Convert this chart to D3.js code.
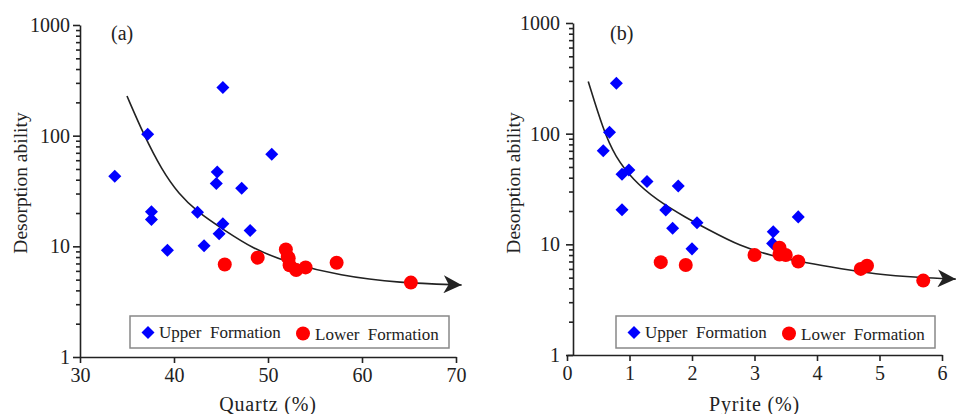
<!DOCTYPE html>
<html>
<head>
<meta charset="utf-8">
<script src="https://cdn.jsdelivr.net/npm/d3@7"></script>
<style>
body { margin: 0; background: #fff; }
svg text { font-family: "Liberation Serif", "Times New Roman", serif; fill: #222; }
.axis path, .axis line { stroke: #222; stroke-width: 1.6; }
</style>
</head>
<body>
<svg width="957" height="414"></svg>
<script>
// values: [mineral %, desorption ability]
const quartzUpper = [[33.7,43],[37.2,103],[37.6,20.5],[37.6,17.5],[39.3,9.2],[42.5,20.3],[43.2,10.1],
  [44.5,37],[44.6,47],[44.8,13],[45.2,16],[45.2,273],[47.2,33.5],[48.1,13.9],[50.4,68]];
const quartzLower = [[45.4,6.85],[48.9,7.9],[51.9,9.35],[52.1,8.0],[52.2,7.8],[52.3,6.75],[53.0,6.1],
  [54.0,6.45],[57.3,7.1],[65.2,4.7]];
const quartzTrend = [[35.0,228],[36.8,101],[38.7,49],[40.5,29.7],[42.5,20.4],[45.2,14.3],[48.4,9.5],
  [52,7.2],[57.7,5.4],[64,4.67],[70.6,4.48]];

const pyriteUpper = [[0.58,70],[0.68,103],[0.79,286],[0.88,43],[0.88,20.5],[0.99,47],[1.28,37],
  [1.58,20.4],[1.69,14],[1.78,33.7],[2.08,15.7],[2.0,9.1],[3.3,13],[3.29,10.2],[3.7,17.7]];
const pyriteLower = [[1.5,6.9],[1.9,6.5],[3.0,8.0],[3.4,9.3],[3.4,8.1],[3.5,8.0],[3.7,7.0],
  [4.7,6.0],[4.8,6.4],[5.7,4.7]];
const pyriteTrend = [[0.34,296],[0.58,108],[0.77,62],[1.06,38],[1.43,25.2],[1.92,17.2],[2.24,13.8],
  [2.77,9.6],[3.3,7.8],[3.83,6.8],[4.4,6.0],[4.9,5.4],[5.65,5.0],[6.22,4.85]];

const quartzTicks = [30, 40, 50, 60, 70];
const pyriteTicks = [0, 1, 2, 3, 4, 5, 6];
const desorptionTicks = [1, 10, 100, 1000];

const svg = d3.select("svg");

// arrow head for the trend lines
svg.append("defs").append("marker")
  .attr("id", "arrow")
  .attr("markerUnits", "userSpaceOnUse")
  .attr("viewBox", "0 0 20 18")
  .attr("markerWidth", 20).attr("markerHeight", 18)
  .attr("refX", 18).attr("refY", 9)
  .attr("orient", "auto")
  .append("path")
  .attr("d", "M0,0 L18,9 L0,18 L5,9 Z")
  .attr("fill", "#222");

function drawPanel(p) {
  const x = d3.scaleLinear().domain(p.xDomain).range(p.xRange);
  const y = d3.scaleLog().domain([1, 1000]).range(p.yRange);

  const g = svg.append("g");

  // y axis: major + minor ticks
  g.append("g").attr("class", "axis")
    .attr("transform", `translate(${p.yAxisX},0)`)
    .call(d3.axisLeft(y).tickValues(y.ticks().filter(v => !desorptionTicks.includes(v)))
      .tickSize(4).tickFormat(""))
    .call(a => a.select(".domain").remove());
  g.append("g").attr("class", "axis")
    .attr("transform", `translate(${p.yAxisX},0)`)
    .call(d3.axisLeft(y).tickValues(desorptionTicks).tickSize(7).tickSizeOuter(0)
      .tickPadding(p.yPad).tickFormat(d3.format("d")))
    .call(a => a.selectAll("text").style("font-size", "20px"));

  // x axis
  g.append("g").attr("class", "axis")
    .attr("transform", `translate(0,${p.yRange[0]})`)
    .call(d3.axisBottom(x).tickValues(p.xTicks).tickSize(6).tickSizeOuter(0).tickPadding(5)
      .tickFormat(d3.format("d")))
    .call(a => a.selectAll("text").style("font-size", "20px"));

  // titles
  g.append("text")
    .attr("x", (p.xRange[0] + p.xRange[1]) / 2).attr("y", 411)
    .attr("text-anchor", "middle")
    .style("font-size", "20px").style("letter-spacing", "0.8px")
    .text(p.xTitle);
  g.append("text")
    .attr("transform", `translate(${p.yTitleX},183) rotate(-90)`)
    .attr("text-anchor", "middle")
    .style("font-size", "19.5px")
    .text("Desorption ability");
  g.append("text")
    .attr("x", p.tagX).attr("y", 40)
    .style("font-size", "20px")
    .text(p.tag);

  // trend line
  const line = d3.line().x(d => x(d[0])).y(d => y(d[1])).curve(d3.curveBasis);
  g.append("path")
    .datum(p.trend)
    .attr("d", line)
    .attr("fill", "none")
    .attr("stroke", "#222")
    .attr("stroke-width", 1.6)
    .attr("marker-end", "url(#arrow)");

  // points
  const diamond = d3.symbol(d3.symbolSquare, 85);
  g.append("g").selectAll("path")
    .data(p.upper).join("path")
    .attr("d", diamond)
    .attr("transform", d => `translate(${x(d[0])},${y(d[1])}) rotate(45)`)
    .attr("fill", "#0000ff");
  g.append("g").selectAll("circle")
    .data(p.lower).join("circle")
    .attr("cx", d => x(d[0])).attr("cy", d => y(d[1]))
    .attr("r", 7)
    .attr("fill", "#ff0000");

  // legend
  const lx = p.legendX, ly = 316;
  g.append("rect")
    .attr("x", lx).attr("y", ly).attr("width", 319).attr("height", 32)
    .attr("fill", "#fff").attr("stroke", "#888").attr("stroke-width", 1.5);
  g.append("path")
    .attr("d", diamond)
    .attr("transform", `translate(${lx + 18},${ly + 16.5}) rotate(45)`)
    .attr("fill", "#0000ff");
  g.append("text")
    .attr("x", lx + 29).attr("y", ly + 22)
    .style("font-size", "17px").style("white-space", "pre")
    .text("Upper  Formation");
  g.append("circle")
    .attr("cx", lx + 173).attr("cy", ly + 17.5).attr("r", 7)
    .attr("fill", "#ff0000");
  g.append("text")
    .attr("x", lx + 185).attr("y", ly + 24)
    .style("font-size", "17px").style("white-space", "pre")
    .text("Lower  Formation");
}

drawPanel({
  xDomain: [30, 70], xRange: [80, 456], yRange: [357, 25], yAxisX: 80, yPad: 3,
  xTicks: quartzTicks, xTitle: "Quartz (%)", yTitleX: 27, tag: "(a)", tagX: 111,
  upper: quartzUpper, lower: quartzLower, trend: quartzTrend, legendX: 130
});
drawPanel({
  xDomain: [0, 6], xRange: [567, 942], yRange: [355, 23], yAxisX: 573, yPad: 6,
  xTicks: pyriteTicks, xTitle: "Pyrite (%)", yTitleX: 520, tag: "(b)", tagX: 610,
  upper: pyriteUpper, lower: pyriteLower, trend: pyriteTrend, legendX: 616
});
</script>
</body>
</html>
